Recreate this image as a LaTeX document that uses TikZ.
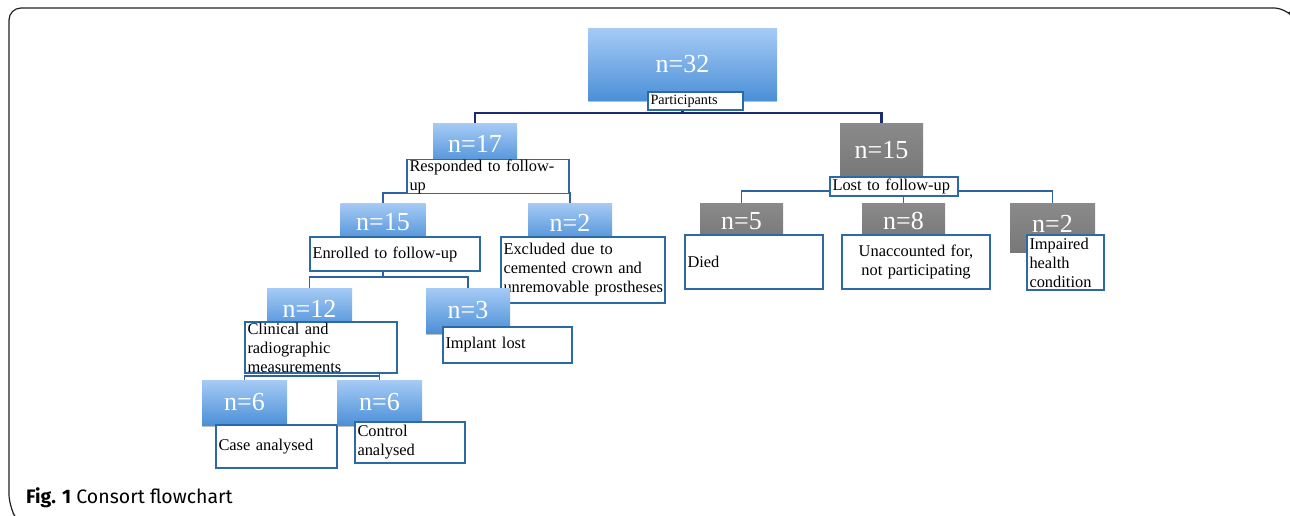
\documentclass[tikz,border=0pt]{standalone}
\usepackage{fontspec}
\setmainfont{Liberation Serif}
\newfontfamily\capfont{Fira Sans}
\usetikzlibrary{backgrounds,shadows}
\definecolor{bluetop}{HTML}{A6CBF5}
\definecolor{bluebot}{HTML}{4C90D8}
\definecolor{graytop}{HTML}{8A8A8A}
\definecolor{graybot}{HTML}{787878}
\definecolor{boxline}{HTML}{2C6AA6}
\definecolor{navy}{HTML}{1E2A6E}
\definecolor{connc}{HTML}{2F62A0}
\definecolor{framec}{HTML}{222222}
\begin{document}
\begin{tikzpicture}[x=1pt,y=-1pt,
  sz/.style 2 args={minimum width=#1pt, minimum height=#2pt},
  numbox/.style={inner sep=0pt, text=white, font=\fontsize{26}{28}\selectfont,
    top color=bluetop, bottom color=bluebot,
    drop shadow={shadow xshift=0pt, shadow yshift=-2pt, opacity=0.25, fill=black}},
  graybox/.style={inner sep=0pt, text=white, font=\fontsize{26}{28}\selectfont,
    top color=graytop, bottom color=graybot},
  labbox/.style={draw=boxline, line width=1.6pt, fill=white, inner xsep=2.5pt, inner ysep=0pt,
    align=left, font=\fontsize{16.4}{19}\selectfont},
  connline/.style={draw=connc, line width=1.7pt},
  mainline/.style={draw=navy, line width=2.2pt}]
\useasboundingbox (0,0) rectangle (1290,515);

% frame
\draw[framec, line width=1.2pt, rounded corners=12pt] (1289,12) -- (1286,8) -- (9,8) -- (9,506) -- (13,513);

% top
\node[numbox, sz={189}{72}] (n32) at (682.5,64) {n=32};
\node[labbox, text width=90pt, minimum height=18pt, font=\fontsize{14.2}{16}\selectfont] (part) at (695.5,101) {Participants};

% left branch
\node[numbox, sz={84}{42}] (n17) at (475,144) {n=17};
\node[labbox, text width=157pt, minimum height=27pt] (resp) at (488,176.5) {Responded to follow-\\up};

\node[numbox, sz={85}{39}] (b15) at (383,222.5) {n=15};
\node[labbox, text width=165pt, minimum height=34pt] (enr) at (395,254) {Enrolled to follow-up};

\node[numbox, sz={84}{39}] (b2) at (570,222.5) {n=2};
\node[labbox, text width=159pt, minimum height=66pt] (excl) at (583,270) {Excluded due to\\cemented crown and\\\mbox{unremovable prostheses}};

\node[numbox, sz={85}{42}] (n12) at (309.5,309) {n=12};
\node[labbox, text width=147pt, minimum height=51pt] (clin) at (321,347.5) {Clinical and\\radiographic\\measurements};

\node[numbox, sz={84}{45}] (n3) at (468,310.5) {n=3};
\node[labbox, text width=124pt, minimum height=36pt] (impl) at (507.5,345) {Implant lost};

\node[numbox, sz={85}{45}] (n6l) at (244.5,402.5) {n=6};
\node[labbox, text width=116pt, minimum height=43pt] (case) at (276.5,446.5) {Case analysed};

\node[numbox, sz={85}{45}] (n6r) at (379.5,402.5) {n=6};
\node[labbox, text width=105pt, minimum height=41pt] (ctrl) at (410,442.5) {Control\\analysed};

% right branch
\node[graybox, sz={83}{54}] (g15) at (881.5,150) {n=15};
\node[labbox, text width=123pt, minimum height=19pt] (lost) at (894,186.5) {Lost to follow-up};

\node[graybox, sz={83}{37}] (g5) at (741.5,221.5) {\raisebox{1pt}{n=5}};
\node[labbox, text width=133pt, minimum height=54pt] (died) at (754,262) {Died};

\node[graybox, sz={83}{37}] (g8) at (903.5,221.5) {\raisebox{1pt}{n=8}};
\node[labbox, text width=143pt, minimum height=54pt, align=center] (unacc) at (916,262) {Unaccounted for,\\not participating};

\node[graybox, sz={85}{49}] (g2) at (1052.5,227.5) {\raisebox{7pt}{n=2}};
\node[labbox, text width=72pt, minimum height=55pt] (imp) at (1065.5,262.5) {Impaired\\health\\condition};

% connectors
\begin{scope}[on background layer]
\draw[mainline] (n32.south) -- (n32.south |- 0,113) coordinate (j0);
\draw[mainline] (n17.north) |- (j0) -| (g15.north);

\draw[connline] (n17.south) -- (n17.south |- 0,193) coordinate (j1);
\draw[connline] (b15.north) |- (j1) -| (b2.north);

\draw[connline] (b15.south) -- (b15.south |- 0,277) coordinate (j2);
\draw[connline] (n12.north) |- (j2) -| (n3.north);

\draw[connline] (n6l.north) |- (n6r.north |- 0,376) coordinate (j3);
\draw[connline] (j3 |- clin.south) -- (n6r.north);

\draw[connline] (g5.north) |- (g8.north |- 0,191) coordinate (j4);
\draw[connline] (j4) -| (g2.north);
\draw[connline] (g8.north |- lost.south) -- (g8.north);
\end{scope}

% caption
\node[anchor=base west, inner sep=0pt, font=\capfont\fontsize{19.5}{22}\selectfont] (cap) at (26,503) {\textbf{Fig. 1} Consort flowchart};
\end{tikzpicture}
\end{document}
